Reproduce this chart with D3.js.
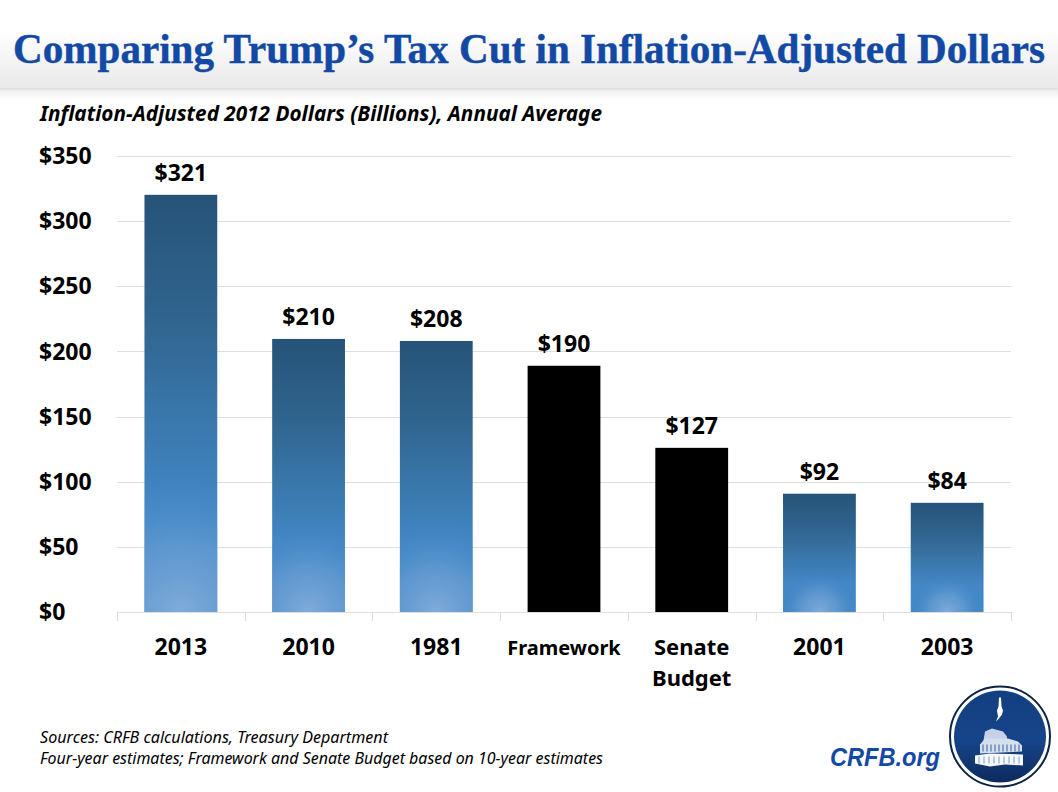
<!DOCTYPE html>
<html>
<head>
<meta charset="utf-8">
<script src="https://cdn.jsdelivr.net/npm/d3@7"></script>
<style>
  html, body { margin: 0; padding: 0; background: #fff; }
  svg { display: block; }
  text { font-family: "Noto Sans", sans-serif; fill: #000; }
</style>
</head>
<body>
<svg id="chart"></svg>
<script>
const categories = ['2013', '2010', '1981', 'Framework', 'Senate Budget', '2001', '2003'];
// bar heights, printed labels are the rounded figures
const values = [320.2, 209.6, 208, 189, 126, 90.8, 83.8];
const valueLabels = ['$321', '$210', '$208', '$190', '$127', '$92', '$84'];
const blackBars = ['Framework', 'Senate Budget'];
const yTicks = [0, 50, 100, 150, 200, 250, 300, 350];

const W = 1058, H = 792;
const svg = d3.select('#chart').attr('width', W).attr('height', H).attr('viewBox', `0 0 ${W} ${H}`);
const defs = svg.append('defs');

const x = d3.scaleBand().domain(categories).range([117, 1011]).paddingInner(0.43).paddingOuter(0.215);
const y = d3.scaleLinear().domain([0, 350]).range([612, 156]);

// header band
const headGrad = defs.append('linearGradient').attr('id', 'headGrad').attr('x1', 0).attr('y1', 0).attr('x2', 0).attr('y2', 1);
[[0, '#ffffff'], [0.35, '#ffffff'], [1, '#e9e9e9']].forEach(s => headGrad.append('stop').attr('offset', s[0]).attr('stop-color', s[1]));
const shadowGrad = defs.append('linearGradient').attr('id', 'shadowGrad').attr('x1', 0).attr('y1', 0).attr('x2', 0).attr('y2', 1);
[[0, '#dcdcdc'], [0.25, '#f0f0f0'], [1, '#ffffff']].forEach(s => shadowGrad.append('stop').attr('offset', s[0]).attr('stop-color', s[1]));
svg.append('rect').attr('width', W).attr('height', 88).attr('fill', 'url(#headGrad)');
svg.append('rect').attr('y', 88).attr('width', W).attr('height', 12).attr('fill', 'url(#shadowGrad)');

svg.append('text').attr('transform', 'translate(13,63) scale(1,1.05)')
  .attr('textLength', 1032).attr('lengthAdjust', 'spacingAndGlyphs')
  .style('font-family', '"Liberation Serif", serif').style('font-weight', 700).style('font-size', '40px')
  .style('fill', '#1249A4').style('stroke', '#1249A4').style('stroke-width', 0.4)
  .text('Comparing Trump’s Tax Cut in Inflation-Adjusted Dollars');

svg.append('text').attr('x', 40).attr('y', 121)
  .attr('textLength', 562).attr('lengthAdjust', 'spacingAndGlyphs')
  .style('font-weight', 700).style('font-style', 'italic').style('font-size', '21px')
  .text('Inflation-Adjusted 2012 Dollars (Billions), Annual Average');

// grid
svg.append('g').selectAll('line').data(yTicks).join('line')
  .attr('x1', 117).attr('x2', 1011)
  .attr('y1', d => Math.round(y(d)) + 0.5).attr('y2', d => Math.round(y(d)) + 0.5)
  .attr('stroke', '#dedede').attr('stroke-width', 1);

// y labels
svg.append('g').selectAll('text').data(yTicks).join('text')
  .attr('x', 39).attr('y', d => y(d) + 8.2)
  .style('font-weight', 700).style('font-size', '23px')
  .text(d => '$' + d);

// x tick marks
const step = x.step();
svg.append('g').selectAll('line').data(d3.range(categories.length + 1)).join('line')
  .attr('x1', i => Math.round(117 + i * step) + 0.5).attr('x2', i => Math.round(117 + i * step) + 0.5)
  .attr('y1', 612).attr('y2', 621)
  .attr('stroke', '#dedede').attr('stroke-width', 1);

// bar fills: vertical ramp plus a round pale glow at the foot of each blue bar
const barGrad = defs.append('linearGradient').attr('id', 'barGrad').attr('x1', 0).attr('y1', 0).attr('x2', 0).attr('y2', 1);
[[0, '#265378'], [0.3, '#30658f'], [0.6, '#3c7cb3'], [0.76, '#4287c6'], [1, '#4287c6']].forEach(s => barGrad.append('stop').attr('offset', s[0]).attr('stop-color', s[1]));

const bars = svg.append('g').selectAll('g').data(categories).join('g');
bars.append('rect')
  .attr('x', d => x(d)).attr('width', x.bandwidth())
  .attr('y', (d, i) => y(values[i])).attr('height', (d, i) => y(0) - y(values[i]))
  .attr('fill', d => blackBars.includes(d) ? '#000' : 'url(#barGrad)');

bars.filter(d => !blackBars.includes(d)).each(function (d) {
  const i = categories.indexOf(d);
  const h = y(0) - y(values[i]);
  const glow = defs.append('radialGradient').attr('id', 'glow' + i)
    .attr('gradientUnits', 'userSpaceOnUse')
    .attr('cx', x(d) + x.bandwidth() / 2).attr('cy', y(0)).attr('r', h * 0.33);
  [[0, '#80abda', 1], [0.5, '#6a9fd3', 0.65], [1, '#4287c6', 0]].forEach(s => glow.append('stop').attr('offset', s[0]).attr('stop-color', s[1]).attr('stop-opacity', s[2]));
  d3.select(this).append('rect')
    .attr('x', x(d)).attr('width', x.bandwidth())
    .attr('y', y(values[i])).attr('height', h)
    .attr('fill', `url(#glow${i})`);
});

// value labels
bars.append('text')
  .attr('x', d => x(d) + x.bandwidth() / 2)
  .attr('y', (d, i) => y(values[i]) - 14)
  .attr('text-anchor', 'middle')
  .style('font-weight', 700).style('font-size', '23px')
  .text((d, i) => valueLabels[i]);

// category labels
bars.each(function (d) {
  const g = d3.select(this);
  const cx = x(d) + x.bandwidth() / 2;
  const small = d === 'Framework';
  const word = isNaN(+d);
  d.split(' ').forEach((line, li) => {
    g.append('text').attr('x', cx).attr('y', 655 + li * 31)
      .attr('text-anchor', 'middle')
      .style('font-weight', 700).style('font-size', small ? '20px' : word ? '22px' : '23px')
      .text(line);
  });
});

// footer
['Sources: CRFB calculations, Treasury Department',
 'Four-year estimates; Framework and Senate Budget based on 10-year estimates'].forEach((t, i) => {
  svg.append('text').attr('x', 40).attr('y', 743 + i * 21)
    .attr('textLength', i ? 563 : 348).attr('lengthAdjust', 'spacingAndGlyphs')
    .style('font-style', 'italic').style('font-size', '16px')
    .text(t);
});

svg.append('text').attr('x', 830).attr('y', 766)
  .attr('textLength', 110).attr('lengthAdjust', 'spacingAndGlyphs')
  .style('font-family', '"Liberation Sans", sans-serif')
  .style('font-weight', 700).style('font-style', 'italic').style('font-size', '25px').style('fill', '#1249A4')
  .text('CRFB.org');

// logo
const logoGrad = defs.append('linearGradient').attr('id', 'logoGrad').attr('x1', 0).attr('y1', 0).attr('x2', 0).attr('y2', 1);
[[0, '#123f80'], [0.55, '#164489'], [1, '#0d2a5c']].forEach(s => logoGrad.append('stop').attr('offset', s[0]).attr('stop-color', s[1]));
const logo = svg.append('g').attr('transform', 'translate(1000,736.5)');
logo.append('circle').attr('r', 50).attr('fill', '#fff').attr('stroke', '#0d2345').attr('stroke-width', 2);
logo.append('circle').attr('r', 46).attr('fill', 'url(#logoGrad)');
// statue
logo.append('path').attr('d', 'M-1,-39 L1,-39 L1.5,-30 L3,-26 L2,-22 L-1,-18 L-4,-15 L-2,-20 L-3,-26 L-1.5,-30 Z').attr('fill', '#fff');
// dome, drum and base
logo.append('path').attr('d', 'M-15,-5 L-8,-8 L3,-5 L7,0 L7,3 L-17,7 Z').attr('fill', '#c4d1e6');
logo.append('path').attr('d', 'M-20,8 L-15,2 L8,2 L18,5 L22,9 L22,15 L-20,17 Z').attr('fill', '#d5dfee');
logo.append('path').attr('d', 'M-25,19 L-10,17 L23,18 L23,29 L5,28 L-10,30 L-25,27 Z').attr('fill', '#f6f8fb');
logo.append('g').selectAll('line').data(d3.range(-21, 22, 5)).join('line')
  .attr('x1', d => d).attr('x2', d => d).attr('y1', 20).attr('y2', 27)
  .attr('stroke', '#7f9cc6').attr('stroke-width', 1);
logo.append('g').selectAll('line').data(d3.range(-17, 20, 4)).join('line')
  .attr('x1', d => d).attr('x2', d => d).attr('y1', 8).attr('y2', 15)
  .attr('stroke', '#3a6099').attr('stroke-width', 1);
</script>
</body>
</html>
